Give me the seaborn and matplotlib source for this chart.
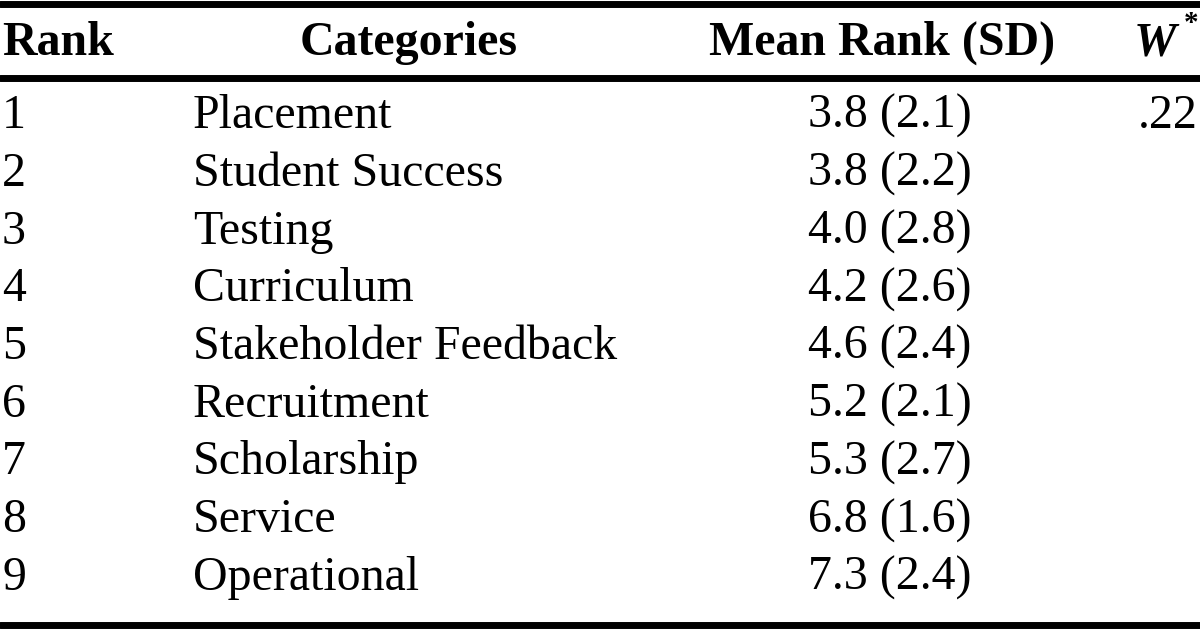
import matplotlib
matplotlib.use("Agg")
import matplotlib.pyplot as plt
import pandas as pd
import seaborn as sns

ranks = [1, 2, 3, 4, 5, 6, 7, 8, 9]
categories = ["Placement", "Student Success", "Testing", "Curriculum",
              "Stakeholder Feedback", "Recruitment", "Scholarship",
              "Service", "Operational"]
mean_rank = [3.8, 3.8, 4.0, 4.2, 4.6, 5.2, 5.3, 6.8, 7.3]
sd_rank = [2.1, 2.2, 2.8, 2.6, 2.4, 2.1, 2.7, 1.6, 2.4]
kendall_w = [".22", "", "", "", "", "", "", "", ""]
headers = ["Rank", "Categories", "Mean Rank (SD)", "W"]


def main():
    sns.set_theme(style="white")
    plt.rcParams["font.family"] = ["Liberation Serif", "DejaVu Serif"]
    plt.rcParams["text.color"] = "black"

    df = pd.DataFrame({"rank": ranks, "category": categories,
                       "mean": mean_rank, "sd": sd_rank, "w": kendall_w})

    fig = plt.figure(figsize=(12, 6.3), dpi=100)
    ax = fig.add_axes([0, 0, 1, 1])
    ax.set_xlim(0, 1200)
    ax.set_ylim(630, 0)
    ax.set_axis_off()

    fs = 34.5
    # rules: top, under header, bottom
    for y in (3.5, 77.5, 624.5):
        ax.axhline(y, color="black", lw=5.0)

    # header
    hy = 55
    ax.text(2, hy, headers[0], ha="left", va="baseline", fontsize=fs, fontweight="bold")
    ax.text(409, hy, headers[1], ha="center", va="baseline", fontsize=fs, fontweight="bold")
    ax.text(882, hy, headers[2], ha="center", va="baseline", fontsize=fs, fontweight="bold")
    ax.text(1176, hy, headers[3], ha="right", va="baseline", fontsize=fs,
            fontweight="bold", fontstyle="italic")
    ax.text(1198, 31, "*", ha="right", va="baseline", fontsize=21, fontweight="bold")

    # body rows
    for i, row in df.iterrows():
        y = 128 + i * 57.75
        ax.text(2, y, str(row["rank"]), ha="left", va="baseline", fontsize=fs)
        ax.text(193, y, row["category"], ha="left", va="baseline", fontsize=fs)
        ax.text(890, y, f"{row['mean']:.1f} ({row['sd']:.1f})", ha="center",
                va="baseline", fontsize=fs)
        if row["w"]:
            ax.text(1198, y, row["w"], ha="right", va="baseline", fontsize=fs)

    fig.savefig("out.png", dpi=100, facecolor="white")


if __name__ == "__main__":
    main()
